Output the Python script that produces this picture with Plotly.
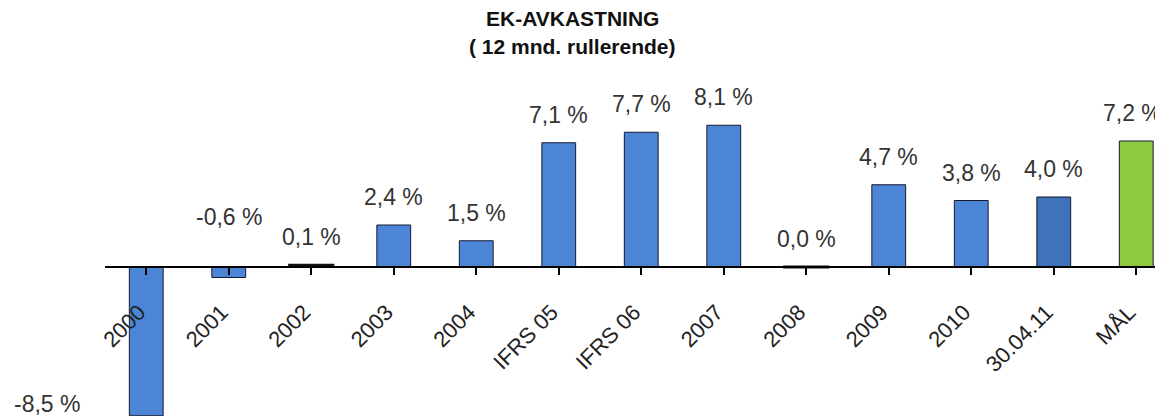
import plotly.graph_objects as go

categories = ["2000", "2001", "2002", "2003", "2004", "IFRS 05", "IFRS 06", "2007",
              "2008", "2009", "2010", "30.04.11", "MÅL"]
values = [-8.5, -0.6, 0.1, 2.4, 1.5, 7.1, 7.7, 8.1, 0.0, 4.7, 3.8, 4.0, 7.2]
bar_colors = ["#4c85d6"] * 11 + ["#3f72b8", "#8dca3f"]
title_lines = ["EK-AVKASTNING", "( 12 mnd. rullerende)"]


def fmt(v):
    return f"{v:.1f}".replace(".", ",") + " %"


# the page body adds an 8px margin, so the figure is laid out 8px smaller
OFF = 8
W, H = 1163 - OFF, 419 - OFF
L, R, T, B = 105 - OFF, 0, 72, 3
px_per_unit = 17.5
zero_px = 267 - OFF
plot_h = H - T - B
plot_w = W - L - R
y_top = (zero_px - T) / px_per_unit
y_bot = -(H - B - zero_px) / px_per_unit
cat_px = 82.5
x_max = -0.5 + plot_w / cat_px

label_font = dict(family="Liberation Sans, Arial", size=23, color="#333333")

fig = go.Figure()
fig.add_trace(go.Bar(
    x=list(range(len(categories))), y=values,
    marker=dict(color=bar_colors, line=dict(color="#151a30", width=1)),
    width=0.41, hoverinfo="skip",
))
# near-zero values are drawn as a flat dark line, as in the reference
flat_idx = [i for i, v in enumerate(values) if abs(v) < 0.15]
fig.add_trace(go.Scatter(
    x=flat_idx, y=[values[i] for i in flat_idx], mode="markers",
    marker=dict(symbol="line-ew", size=33, line=dict(color="#111111", width=3)),
    hoverinfo="skip",
))

annotations = []
n = len(values)
for i, v in enumerate(values):
    if v < -5:
        annotations.append(dict(x=(47 - OFF - L) / plot_w, xref="paper", y=-7.85, yref="y",
                                xanchor="center", yanchor="middle",
                                text=fmt(v), showarrow=False, font=label_font))
        continue
    base = max(v, 0)
    shift = 28 if v >= 0 else 50
    annotations.append(dict(x=i, y=base, xref="x", yref="y", text=fmt(v), showarrow=False,
                            xanchor="center", yanchor="middle",
                            xshift=-4 if i == n - 1 else 0,
                            yshift=shift, font=label_font))

for j, line in enumerate(title_lines):
    ypx = 18 + 29 * j - OFF
    annotations.append(dict(x=(572 - OFF - L) / plot_w, xref="paper",
                            y=(H - B - ypx) / plot_h, yref="paper",
                            xanchor="center", yanchor="middle",
                            text=f"<b>{line}</b>", showarrow=False,
                            font=dict(family="Liberation Sans, Arial", size=21, color="#111111")))

fig.update_layout(
    width=W, height=H,
    margin=dict(l=L, r=R, t=T, b=B, autoexpand=False),
    paper_bgcolor="white", plot_bgcolor="white",
    showlegend=False,
    annotations=annotations,
    xaxis=dict(
        range=[-0.5, x_max], automargin=False,
        tickmode="array", tickvals=list(range(n)), ticktext=categories,
        tickangle=-45, ticks="outside", tickson="boundaries", ticklen=7, tickcolor="black",
        tickwidth=1.5, ticklabelstandoff=16, ticklabelshift=-7,
        showline=True, linecolor="black", linewidth=1.5,
        showgrid=False, zeroline=False,
        anchor="free", position=(H - B - zero_px) / plot_h,
        tickfont=dict(family="Liberation Sans, Arial", size=22, color="#222222"),
    ),
    yaxis=dict(range=[y_bot, y_top], visible=False, automargin=False),
)

fig.write_html("out.html")
